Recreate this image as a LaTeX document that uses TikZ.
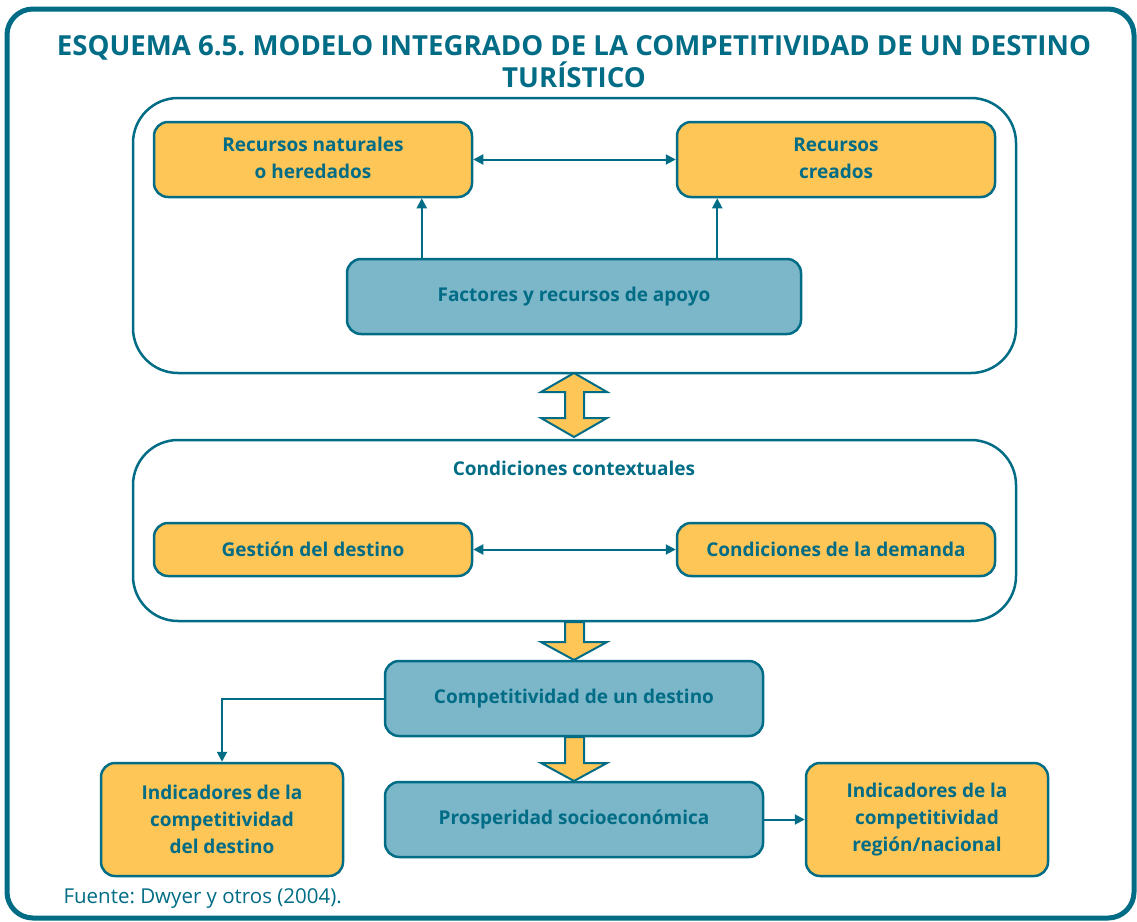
\documentclass[tikz,border=0pt]{standalone}
\usepackage{fontspec}
\setmainfont{Open Sans}
\usetikzlibrary{arrows.meta}
\definecolor{tealc}{RGB}{0,108,133}
\definecolor{orangec}{RGB}{254,197,87}
\definecolor{bluec}{RGB}{123,182,201}
\tikzset{
  panel/.style={draw=tealc, line width=2.5pt, rounded corners=45pt, inner sep=0},
  boxbase/.style={draw=tealc, line width=2.5pt, rounded corners=14pt, inner sep=0, align=center,
     text=tealc, font=\fontsize{19}{27}\selectfont\bfseries},
  obox/.style={boxbase, fill=orangec},
  bbox/.style={boxbase, fill=bluec},
  conn/.style={draw=tealc, line width=2pt, -{Triangle[length=10pt,width=10pt]}},
  conntwo/.style={draw=tealc, line width=2pt, {Triangle[length=10pt,width=10pt]}-{Triangle[length=10pt,width=10pt]}},
  blockarrow/.style={draw=tealc, fill=orangec, line width=2pt, line join=miter},
}
\frenchspacing
\begin{document}
\begin{tikzpicture}[x=1pt,y=-1pt]
\useasboundingbox (0,0) rectangle (1137,921);
\draw[tealc, line width=5pt, rounded corners=26pt] (7,9) rectangle (1134,918);
\node[font=\fontsize{27.6}{32}\selectfont\bfseries, text=tealc, align=center] (title) at (574,62)
  {ESQUEMA 6.5. MODELO INTEGRADO DE LA COMPETITIVIDAD DE UN DESTINO\\TURÍSTICO};
% panel 1
\node[panel, minimum width=883pt, minimum height=275pt] (p1) at (574.5,235.5) {};
\node[obox, minimum width=318pt, minimum height=75pt] (rn) at (313,159.5) {\raisebox{3pt}{\begin{tabular}{@{}c@{}}Recursos naturales\\o heredados\end{tabular}}};
\node[obox, minimum width=318pt, minimum height=75pt] (rc) at (836,159.5) {\raisebox{3pt}{\begin{tabular}{@{}c@{}}Recursos\\creados\end{tabular}}};
\node[bbox, minimum width=454pt, minimum height=75pt] (fa) at (574,296.5) {Factores y recursos de apoyo};
\draw[conntwo] (rn.east) -- (rc.west);
\draw[conn] ([xshift=76pt]fa.north west) -- ([xshift=76pt]fa.north west |- rn.south);
\draw[conn] ([xshift=-85pt]fa.north east) -- ([xshift=-85pt]fa.north east |- rc.south);
% double block arrow
\draw[blockarrow] (574,373) -- (607,392) -- (584,392) -- (584,418) -- (607,418) -- (574,437)
  -- (541,418) -- (565,418) -- (565,392) -- (541,392) -- cycle;
% panel 2
\node[panel, minimum width=883pt, minimum height=181pt] (p2) at (574.5,530.5) {};
\node[text=tealc, font=\fontsize{19}{27}\selectfont\bfseries] (cc) at (574,468) {Condiciones contextuales};
\node[obox, minimum width=318pt, minimum height=53pt] (gd) at (313,549.5) {Gestión del destino};
\node[obox, minimum width=318pt, minimum height=53pt] (cd) at (836,549.5) {Condiciones de la demanda};
\draw[conntwo] (gd.east) -- (cd.west);
% down block arrow 1
\draw[blockarrow] (565,622) -- (584,622) -- (584,642) -- (607,642) -- (574,660) -- (541,642) -- (565,642) -- cycle;
\node[bbox, minimum width=378pt, minimum height=75pt] (comp) at (574,698.5) {Competitividad de un destino};
% down block arrow 2
\draw[blockarrow] (565,737) -- (584,737) -- (584,763) -- (607,763) -- (574,781) -- (541,763) -- (565,763) -- cycle;
\node[bbox, minimum width=378pt, minimum height=75pt] (pros) at (574,819.5) {Prosperidad socioeconómica};
\node[obox, minimum width=242pt, minimum height=113pt] (ind1) at (222,819.5) {Indicadores de la\\competitividad\\del destino};
\node[obox, minimum width=242pt, minimum height=113pt] (ind2) at (927,819.5) {Indicadores de la\\competitividad\\región/nacional};
\draw[conn] (comp.west) -| (ind1.north);
\draw[conn] (pros.east) -- (ind2.west);
\node[anchor=west, text=tealc, font=\fontsize{20.5}{22}\selectfont] (src) at (60,899) {Fuente: Dwyer y otros (2004).};
\end{tikzpicture}
\end{document}
